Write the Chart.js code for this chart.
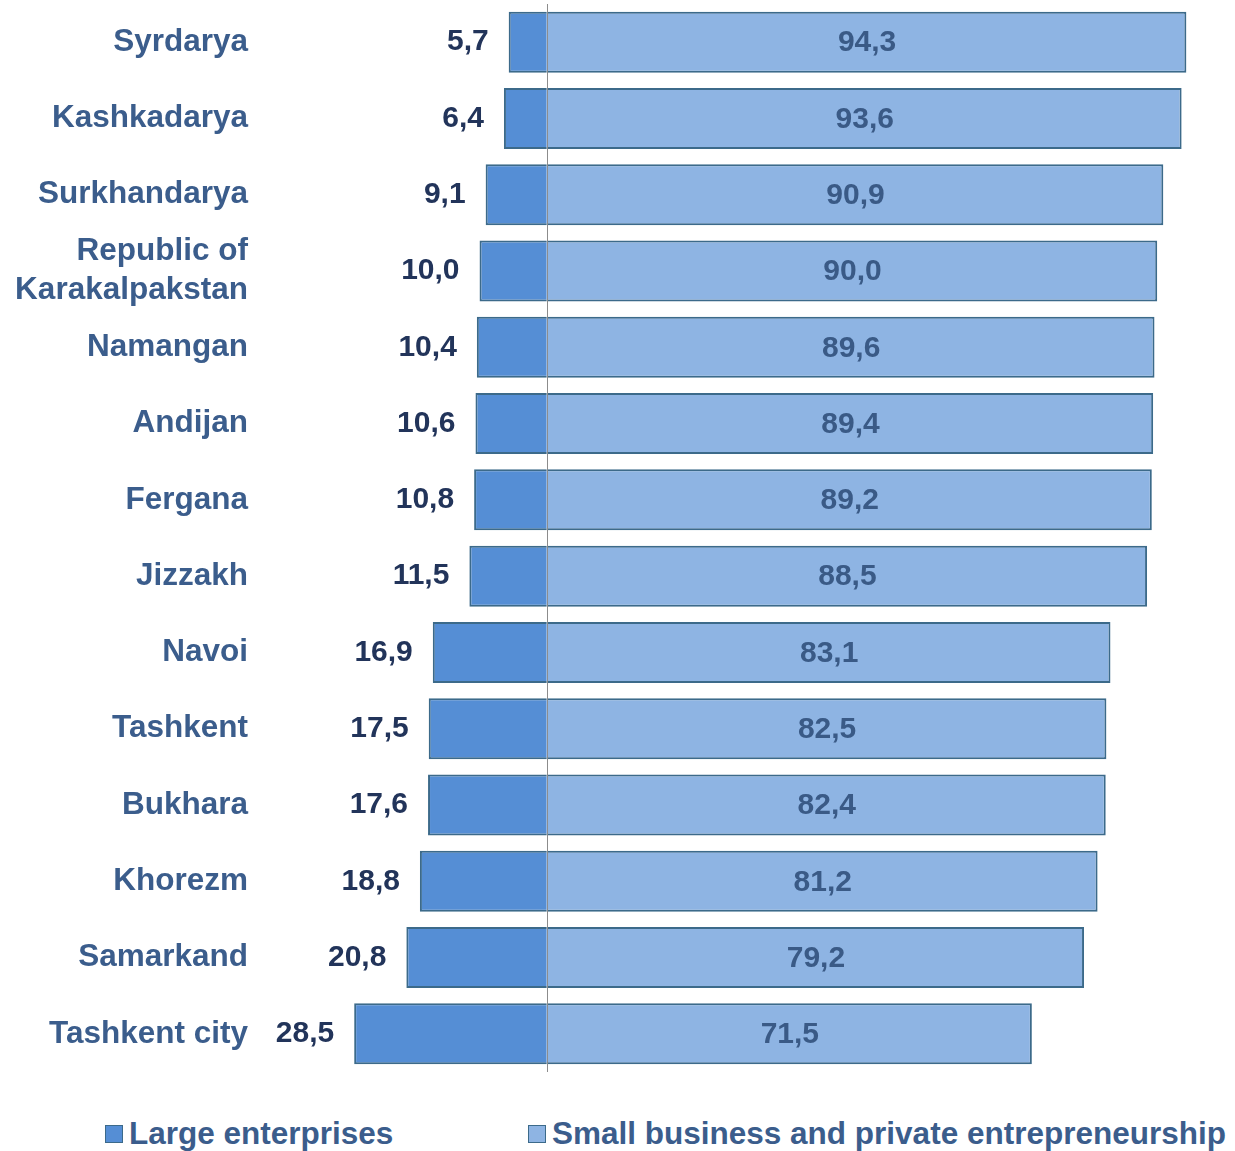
<!DOCTYPE html>
<html>
<head>
<meta charset="utf-8">
<script src="https://cdn.jsdelivr.net/npm/chart.js@4.4.0/dist/chart.umd.min.js"></script>
<style>
  html, body { margin: 0; padding: 0; background: #fff; }
  #wrap { position: relative; width: 1235px; height: 1151px; }
  #chartBox { position: absolute; left: 0; top: 0; width: 1235px; height: 1082px; }
  #legend { position: absolute; left: 0; top: 1114px; width: 1235px; height: 38px;
    font: bold 31.5px "Liberation Sans", Arial, sans-serif; color: #3B5D8C; }
  .item { position: absolute; top: 0; white-space: nowrap; line-height: 38px; }
  .swatch { display: inline-block; width: 18px; height: 18px; border: 1px solid #3C6A8A;
    margin-right: 6px; vertical-align: 1px; box-sizing: border-box; }
</style>
</head>
<body>
<div id="wrap">
  <div id="chartBox"><canvas id="chart"></canvas></div>
  <div id="legend"></div>
</div>
<script>
const regions = [
    'Syrdarya', 'Kashkadarya', 'Surkhandarya', ['Republic of', 'Karakalpakstan'],
    'Namangan', 'Andijan', 'Fergana', 'Jizzakh', 'Navoi', 'Tashkent',
    'Bukhara', 'Khorezm', 'Samarkand', 'Tashkent city'
];
const largeShare = [5.7, 6.4, 9.1, 10.0, 10.4, 10.6, 10.8, 11.5, 16.9, 17.5, 17.6, 18.8, 20.8, 28.5];
const smallShare = [94.3, 93.6, 90.9, 90.0, 89.6, 89.4, 89.2, 88.5, 83.1, 82.5, 82.4, 81.2, 79.2, 71.5];
const seriesNames = ['Large enterprises', 'Small business and private entrepreneurship'];
const seriesColors = ['#558ED5', '#8EB4E3'];
const edgeColor = '#3C6A8A';
const fontFamily = '"Liberation Sans", Arial, sans-serif';

function fmt(v) {
    return v.toFixed(1).replace('.', ',');
}

const valueLabels = {
    id: 'valueLabels',
    afterDatasetsDraw(chart) {
        const ctx = chart.ctx;
        ctx.save();
        ctx.font = 'bold 30px ' + fontFamily;
        ctx.textBaseline = 'middle';

        const large = chart.getDatasetMeta(0);
        ctx.fillStyle = '#22345A';
        ctx.textAlign = 'right';
        large.data.forEach((bar, i) => {
            ctx.fillText(fmt(largeShare[i]), bar.x - 20, bar.y);
        });

        const small = chart.getDatasetMeta(1);
        ctx.fillStyle = '#3A5A86';
        ctx.textAlign = 'center';
        small.data.forEach((bar, i) => {
            ctx.fillText(fmt(smallShare[i]), (bar.base + bar.x) / 2, bar.y + 1);
        });
        ctx.restore();
    }
};

function createChart() {
    const ctx = document.getElementById('chart').getContext('2d');
    return new Chart(ctx, {
        type: 'bar',
        data: {
            labels: regions,
            datasets: [{
                label: seriesNames[0],
                data: largeShare.map(v => -v),
                backgroundColor: seriesColors[0],
                borderColor: edgeColor,
                borderWidth: 2
            }, {
                label: seriesNames[1],
                data: smallShare,
                backgroundColor: seriesColors[1],
                borderColor: edgeColor,
                borderWidth: 2
            }]
        },
        options: {
            indexAxis: 'y',
            responsive: true,
            maintainAspectRatio: false,
            animation: false,
            layout: {
                padding: { top: 4, right: 10, bottom: 10, left: 0 }
            },
            datasets: {
                bar: { barPercentage: 0.8, categoryPercentage: 1 }
            },
            scales: {
                x: {
                    stacked: true,
                    min: -30,
                    max: 100,
                    ticks: { display: false, stepSize: 10 },
                    border: { display: false },
                    grid: {
                        drawTicks: false,
                        lineWidth: 1,
                        color: (c) => (c.tick && c.tick.value === 0) ? '#8C8C8C' : 'rgba(0,0,0,0)'
                    }
                },
                y: {
                    stacked: true,
                    afterFit: (scale) => {
                        // keep the wide label gap from padding the plot top and bottom
                        scale.width = 344;
                        scale.paddingTop = 0;
                        scale.paddingBottom = 0;
                    },
                    border: { display: false },
                    grid: { display: false, drawTicks: false },
                    ticks: {
                        autoSkip: false,
                        padding: 96,
                        color: '#3B5D8C',
                        font: { family: fontFamily, size: 31.5, weight: 'bold', lineHeight: 1.22 }
                    }
                }
            },
            plugins: {
                legend: { display: false },
                tooltip: { enabled: false }
            }
        },
        plugins: [valueLabels]
    });
}

function buildLegend() {
    const legend = document.getElementById('legend');
    const lefts = [105, 528];
    seriesNames.forEach((name, i) => {
        const item = document.createElement('div');
        item.className = 'item';
        item.style.left = lefts[i] + 'px';
        const sw = document.createElement('span');
        sw.className = 'swatch';
        sw.style.background = seriesColors[i];
        item.appendChild(sw);
        item.appendChild(document.createTextNode(name));
        legend.appendChild(item);
    });
}

createChart();
buildLegend();
</script>
</body>
</html>
